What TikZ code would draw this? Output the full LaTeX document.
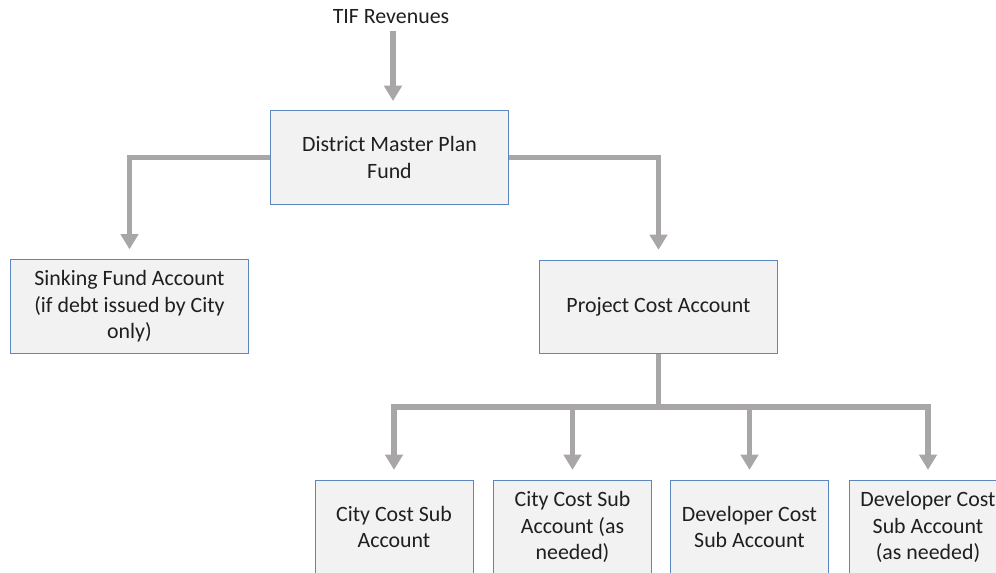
\documentclass[tikz,border=0pt]{standalone}
\usepackage{fontspec}
\setmainfont{Carlito}
\usetikzlibrary{positioning, arrows.meta}
\definecolor{acctfill}{HTML}{F2F2F2}
\definecolor{acctline}{HTML}{5B87BE}
\definecolor{flowgray}{HTML}{A8A6A6}
\tikzset{acct/.style={draw=acctline, line width=0.7pt, fill=acctfill, align=center,
                      minimum width=179pt, minimum height=70pt, inner sep=2pt,
                      font=\fontsize{16.4}{20}\selectfont, text=black!88},
         subacct/.style={acct, minimum width=118.5pt},
         flow/.style={draw=flowgray, line width=4.2pt,
                      -{Triangle[width=13pt,length=11.5pt]}, shorten >=7.5pt},
         bus/.style={draw=flowgray, line width=4.2pt},
        }

\begin{document}
\begin{tikzpicture}[x=0.75pt,y=-0.75pt]
        \useasboundingbox (0,0) rectangle (996,573);
        \clip (0,0) rectangle (996,573);

        \node[font=\fontsize{16.4}{20}\selectfont, text=black!88](tif)at(391,17){TIF Revenues};
        \node[acct](dmp)at(389.5,157.5){District Master Plan\\Fund};
        \node[acct](sink)at(129.5,306.5){Sinking Fund Account\\(if debt issued by City\\only)};
        \node[acct](pca)at(658.5,307){Project Cost Account};

        \node[subacct](c1)at(394,527){City Cost Sub\\Account};
        \node[subacct](c2)at(572.5,527){City Cost Sub\\Account (as\\needed)};
        \node[subacct](d1)at(749.5,527){Developer Cost\\Sub Account};
        \node[subacct](d2)at(928,527){Developer Cost\\Sub Account\\(as needed)};
        \coordinate(split)at(658.5,407);
        \coordinate(tifin)at(393,111);

        \draw[flow,shorten <=2pt](tif.270-|tifin)--(tifin);
        \draw[flow](dmp.180)-|(sink.90);
        \draw[flow](dmp.0)-|(pca.90);

        \draw[bus](pca.270)--(split);
        \draw[flow](split)-|(c1.90);
        \draw[flow](split)-|(c2.90);
        \draw[flow](split)-|(d1.90);
        \draw[flow](split)-|(d2.90);
    \end{tikzpicture}
\end{document}
